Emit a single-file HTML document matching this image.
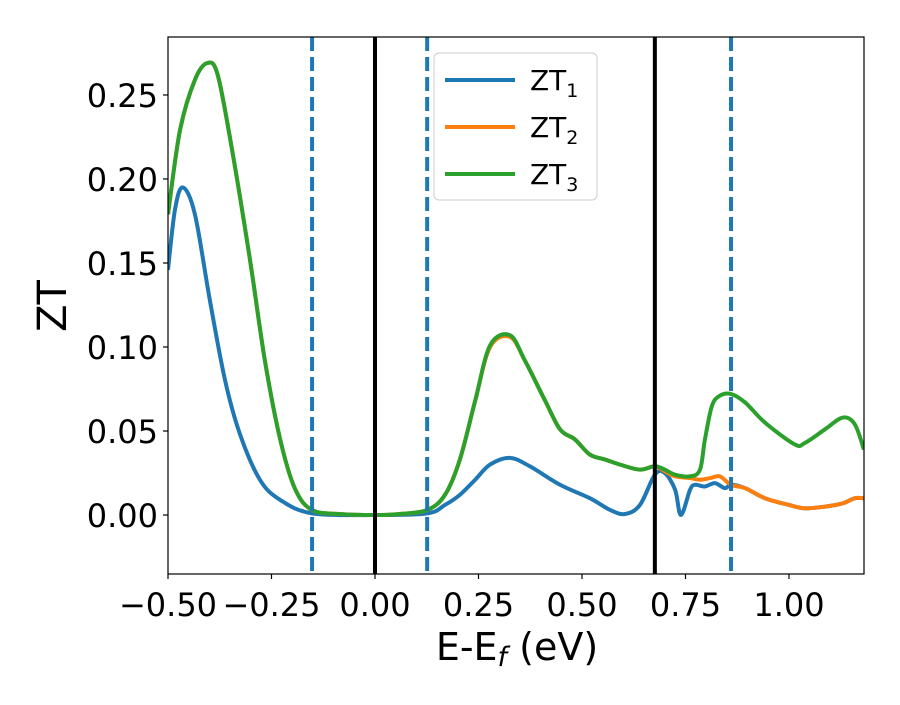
<!DOCTYPE html>
<html><head><meta charset="utf-8"><style>
body{margin:0;background:#fff}
svg text{font-family:"DejaVu Sans","Liberation Sans",sans-serif}
</style></head><body>
<svg id="c" width="900" height="700" xmlns="http://www.w3.org/2000/svg"></svg>
<script>
const xTicks=[-0.5,-0.25,0,0.25,0.5,0.75,1.0];
const xTickLabels=["\u22120.50","\u22120.25","0.00","0.25","0.50","0.75","1.00"];
const yTicks=[0,0.05,0.10,0.15,0.20,0.25];
const yTickLabels=["0.00","0.05","0.10","0.15","0.20","0.25"];
const vSolid=[0,0.676];
const vDashed=[-0.152,0.126,0.86];
const zt3X=[-0.5,-0.471,-0.435,-0.405,-0.38,-0.345,-0.302,-0.266,-0.229,-0.193,-0.152,-0.085,0,0.06,0.126,0.169,0.205,0.242,0.278,0.326,0.362,0.411,0.447,0.483,0.519,0.556,0.592,0.64,0.676,0.7,0.725,0.761,0.785,0.797,0.814,0.833,0.86,0.894,0.942,1.014,1.039,1.087,1.13,1.159,1.181];
const zt3Y=[0.179,0.229,0.259,0.269,0.262,0.217,0.152,0.092,0.045,0.0155,0.003,0.0006,0,0.0006,0.003,0.012,0.033,0.068,0.101,0.107,0.092,0.068,0.051,0.045,0.036,0.033,0.03,0.027,0.029,0.027,0.024,0.023,0.027,0.045,0.065,0.071,0.072,0.067,0.055,0.042,0.043,0.051,0.058,0.054,0.039];
const zt2X=[-0.5,-0.471,-0.435,-0.405,-0.38,-0.345,-0.302,-0.266,-0.229,-0.193,-0.152,-0.085,0,0.06,0.126,0.169,0.205,0.242,0.278,0.326,0.362,0.411,0.447,0.483,0.519,0.556,0.592,0.64,0.676,0.7,0.725,0.761,0.785,0.81,0.833,0.86,0.894,0.942,1.0,1.039,1.087,1.13,1.159,1.181];
const zt2Y=[0.179,0.229,0.259,0.269,0.262,0.217,0.152,0.092,0.045,0.0155,0.003,0.0006,0,0.0006,0.003,0.012,0.033,0.068,0.1,0.106,0.092,0.068,0.051,0.045,0.036,0.033,0.03,0.027,0.029,0.026,0.023,0.022,0.021,0.022,0.023,0.018,0.016,0.01,0.006,0.004,0.005,0.007,0.01,0.01];
const zt1X=[-0.5,-0.483,-0.464,-0.435,-0.399,-0.362,-0.326,-0.278,-0.229,-0.152,0,0.126,0.169,0.205,0.242,0.278,0.326,0.374,0.447,0.519,0.568,0.604,0.64,0.676,0.7,0.725,0.739,0.761,0.773,0.797,0.821,0.845,0.86,0.894,0.942,1.0,1.039,1.087,1.13,1.159,1.181];
const zt1Y=[0.146,0.182,0.195,0.179,0.128,0.08,0.048,0.021,0.009,0.001,0,0.001,0.006,0.012,0.021,0.03,0.034,0.029,0.018,0.01,0.003,0.0006,0.006,0.024,0.025,0.015,0,0.015,0.018,0.017,0.019,0.016,0.018,0.016,0.01,0.006,0.004,0.005,0.007,0.01,0.01];

const L=168,R=864,T=37,B=574,xmin=-0.5,xmax=1.1812,ymin=-0.0351,ymax=0.2845;
const sx=v=>L+(v-xmin)/(xmax-xmin)*(R-L);
const sy=v=>B-(v-ymin)/(ymax-ymin)*(B-T);
const svg=document.getElementById('c');const NS="http://www.w3.org/2000/svg";
function mk(t,a,p){const e=document.createElementNS(NS,t);for(const k in a)e.setAttribute(k,a[k]);(p||svg).appendChild(e);return e;}
const defs=mk('defs',{});const cp=mk('clipPath',{id:'cl'},defs);mk('rect',{x:L,y:T,width:R-L,height:B-T},cp);
function path(xs,ys){const p=xs.map((x,i)=>[sx(x),sy(ys[i])]);let d=`M${p[0][0]},${p[0][1]}`;
for(let i=0;i<p.length-1;i++){const p0=p[i-1]||p[i],p1=p[i],p2=p[i+1],p3=p[i+2]||p2;
d+=`C${p1[0]+(p2[0]-p0[0])/6},${p1[1]+(p2[1]-p0[1])/6} ${p2[0]-(p3[0]-p1[0])/6},${p2[1]-(p3[1]-p1[1])/6} ${p2[0]},${p2[1]}`;}return d;}
const g=mk('g',{'clip-path':'url(#cl)'});

const series=[[zt1X,zt1Y,'#1f77b4','zt1-line'],[zt2X,zt2Y,'#ff7f0e','zt2-line'],[zt3X,zt3Y,'#2ca02c','zt3-line']];
series.forEach(s=>{const e=mk('path',{d:path(s[0],s[1]),fill:'none',stroke:s[2],'stroke-width':4,'stroke-linejoin':'round'},g);
});
vSolid.forEach(v=>{const e=mk('line',{x1:sx(v),x2:sx(v),y1:T,y2:B,stroke:'#000','stroke-width':4},g);
});
vDashed.forEach(v=>{const e=mk('line',{x1:sx(v),x2:sx(v),y1:T,y2:B,stroke:'#1f77b4','stroke-width':4,'stroke-dasharray':'14,6'},g);
});
const fr=mk('rect',{x:L,y:T,width:R-L,height:B-T,fill:'none',stroke:'#000','stroke-width':1.2});

xTicks.forEach((v,i)=>{mk('line',{x1:sx(v),x2:sx(v),y1:B,y2:B+5,stroke:'#000','stroke-width':1.2});
const t=mk('text',{x:sx(v),y:B+42,'font-size':32,'text-anchor':'middle'});t.textContent=xTickLabels[i];
});
yTicks.forEach((v,i)=>{mk('line',{x1:L-5,x2:L,y1:sy(v),y2:sy(v),stroke:'#000','stroke-width':1.2});
const t=mk('text',{x:L-10,y:sy(v)+12,'font-size':32,'text-anchor':'end'});t.textContent=yTickLabels[i];
});
</script>
<svg width="900" height="700" style="position:absolute;left:0;top:0">
<text x="517" y="660" font-size="38" text-anchor="middle">E-E<tspan font-style="italic" font-size="27" dy="6">f</tspan><tspan dy="-6"> (eV)</tspan></text>
<text transform="translate(66,306) rotate(-90)" font-size="40" text-anchor="middle">ZT</text>
<g>
<rect x="434" y="53" width="163" height="147" rx="5" fill="#fff" fill-opacity="0.8" stroke="#ccc"/>
<line x1="445" x2="515" y1="80" y2="80" stroke="#1f77b4" stroke-width="4"/>
<text x="530" y="90" font-size="28">ZT<tspan font-size="19" dy="7">1</tspan></text>
<line x1="445" x2="515" y1="127" y2="127" stroke="#ff7f0e" stroke-width="4"/>
<text x="530" y="137" font-size="28">ZT<tspan font-size="19" dy="7">2</tspan></text>
<line x1="445" x2="515" y1="174" y2="174" stroke="#2ca02c" stroke-width="4"/>
<text x="530" y="184" font-size="28">ZT<tspan font-size="19" dy="7">3</tspan></text>
</g>
</svg>
</body></html>
